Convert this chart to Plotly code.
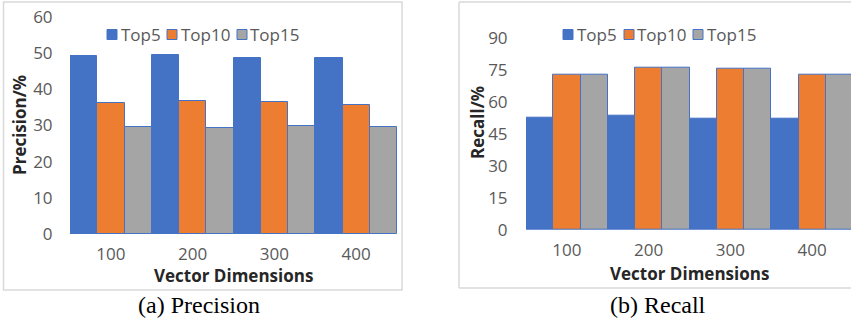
import plotly.graph_objects as go

# ---- data ----
dimensions = ["100", "200", "300", "400"]
series_names = ["Top5", "Top10", "Top15"]
precision_top5 = [49.2, 49.4, 48.6, 48.6]
precision_top10 = [36.1, 36.7, 36.6, 35.8]
precision_top15 = [29.6, 29.4, 29.8, 29.6]
recall_top5 = [52.6, 53.6, 51.9, 51.9]
recall_top10 = [72.7, 75.8, 75.5, 72.7]
recall_top15 = [72.7, 75.8, 75.5, 72.7]
precision_ticks = [0, 10, 20, 30, 40, 50, 60]
recall_ticks = [0, 15, 30, 45, 60, 75, 90]

# ---- style ----
W, H = 851, 324
colors = ["#4472C4", "#ED7D31", "#A5A5A5"]
edge = "#4472C4"
tick_color = "#595959"
title_color = "#262626"
font_family = "Open Sans"
fs = 17


def X(px):
    return px / W


def Y(py):
    return 1 - py / H


fig = go.Figure()

prec = [precision_top5, precision_top10, precision_top15]
rec = [recall_top5, recall_top10, recall_top15]
for name, col, vals in zip(series_names, colors, prec):
    fig.add_trace(go.Bar(x=dimensions, y=vals, name=name, marker=dict(color=col, line=dict(color=edge, width=1)),
                         xaxis="x", yaxis="y", showlegend=False, hoverinfo="skip"))
for name, col, vals in zip(series_names, colors, rec):
    fig.add_trace(go.Bar(x=dimensions, y=vals, name=name, marker=dict(color=col, line=dict(color=edge, width=1)),
                         xaxis="x2", yaxis="y2", showlegend=False, hoverinfo="skip"))

axis_common = dict(showgrid=False, zeroline=False, automargin=False, showline=False,
                   ticks="outside", ticklen=0,
                   tickfont=dict(family=font_family, size=fs, color=tick_color))

fig.update_layout(
    template="none",
    width=W, height=H,
    margin=dict(l=0, r=0, t=0, b=0),
    paper_bgcolor="white", plot_bgcolor="white",
    barmode="group", bargap=0, bargroupgap=0,
    xaxis=dict(domain=[X(70), X(397)], anchor="y", type="category", range=[-0.5, 3.5],
               ticklabelstandoff=5, **axis_common),
    yaxis=dict(domain=[Y(234), Y(17)], anchor="x", range=[0, 60], tickvals=precision_ticks,
               ticklabelstandoff=13, **axis_common),
    xaxis2=dict(domain=[X(526), 1], anchor="y2", type="category", range=[-0.5, -0.5 + 325 / 81.75],
                ticklabelstandoff=5, **axis_common),
    yaxis2=dict(domain=[Y(230), Y(37.7)], anchor="x2", range=[0, 90], tickvals=recall_ticks,
                ticklabelstandoff=14, **axis_common),
)

shapes = []
annotations = []
# panel borders
border = dict(color="#D9D9D9", width=1.5)
shapes.append(dict(type="rect", xref="paper", yref="paper", x0=X(3.5), x1=X(402), y0=Y(290), y1=Y(2), line=border))
for (xa, ya, xb, yb) in [(459, 2, 860, 2), (459, 2, 459, 288), (459, 288, 860, 288)]:
    shapes.append(dict(type="line", xref="paper", yref="paper", x0=X(xa), x1=X(xb), y0=Y(ya), y1=Y(yb), line=border))

# legends (manual, compact like the original)
legend_sets = [
    [(107, 121), (167, 181), (237, 250)],
    [(563, 577), (624, 637), (693, 707)],
]
for positions in legend_sets:
    for (sx, tx), name, col in zip(positions, series_names, colors):
        shapes.append(dict(type="rect", xref="paper", yref="paper", x0=X(sx), x1=X(sx + 10),
                           y0=Y(39.5), y1=Y(29.5), fillcolor=col, line=dict(color=edge, width=1)))
        annotations.append(dict(xref="paper", yref="paper", x=X(tx - 2), y=Y(34), xanchor="left", yanchor="middle",
                                text=name, showarrow=False, font=dict(family=font_family, size=fs, color=tick_color)))


def label(px, py, text, size=fs, family=font_family, color=title_color, angle=0):
    return dict(xref="paper", yref="paper", x=X(px), y=Y(py), text=text, showarrow=False,
                xanchor="center", yanchor="middle", textangle=angle,
                font=dict(family=family, size=size, color=color))


# axis titles and captions
annotations += [
    label(233, 275, "<b>Vector Dimensions</b>"),
    label(689, 273, "<b>Vector Dimensions</b>"),
    label(20, 125, "<b>Precision/%</b>", angle=-90),
    label(477, 123, "<b>Recall/%</b>", angle=-90),
    label(199, 305, "(a) Precision", size=24, family="Liberation Serif", color="black"),
    label(658, 305, "(b) Recall", size=24, family="Liberation Serif", color="black"),
]

fig.update_layout(shapes=shapes, annotations=annotations)
fig.write_html("out.html", config={"displayModeBar": False},
               post_script="document.body.style.margin='0';")
